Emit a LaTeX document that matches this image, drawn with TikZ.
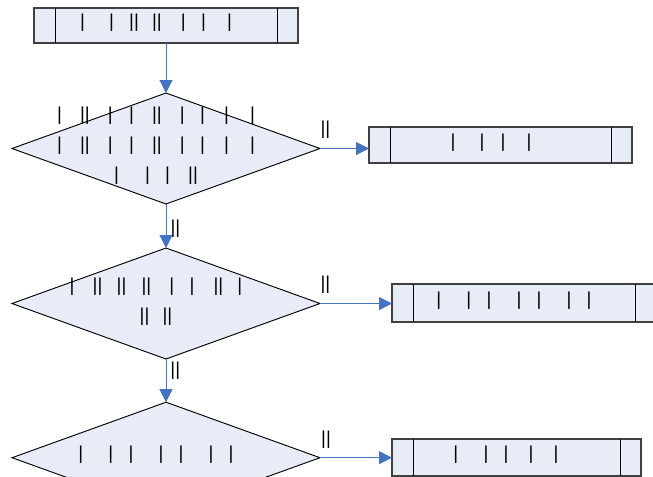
\documentclass[tikz,border=0pt]{standalone}
\usepackage{fontspec}
\setmainfont{Liberation Sans}
\usetikzlibrary{shapes.geometric,arrows.meta}
\definecolor{boxfill}{RGB}{232,236,247}
\definecolor{flowblue}{RGB}{68,114,196}

\begin{document}
\begin{tikzpicture}[
			x=0.75pt,y=-0.75pt,
			every node/.style={font=\fontsize{14}{22.5}\selectfont},
			procbox/.style 2 args={draw=black!75,fill=boxfill,line width=0.9pt,
				minimum width=#1,minimum height=#2,inner sep=0pt,outer sep=0pt},
			decision/.style={diamond,draw=black,fill=boxfill,line width=0.7pt,
				minimum width=231pt,minimum height=83.25pt,inner sep=0pt,outer sep=0pt},
			bartext/.style={align=center,inner sep=0pt},
			flow/.style={draw=flowblue,line width=0.75pt,
				-{Triangle[length=9.75pt,width=9.75pt]}},
			flowlabel/.style={inner sep=0pt}
			]
			\useasboundingbox (0,0) rectangle (653,476);
			% gap from one bar to the next, in px
			\def\bgap#1{\hspace{\dimexpr0.75pt*#1-3.6pt\relax}}
			% the two side strips of a process box
			\def\sidebars#1{
				\draw[line width=0.7pt] ([xshift=15.75pt]#1.north west) -- ([xshift=15.75pt]#1.south west);
				\draw[line width=0.7pt] ([xshift=-15.75pt]#1.north east) -- ([xshift=-15.75pt]#1.south east);
			}
			% boxes
			\node[procbox={198pt}{26.25pt}] (start) at (166,25.5) {};
			\node[procbox={197.25pt}{27pt}] (outa) at (500.5,145) {};
			\node[procbox={198pt}{28.5pt}] (outb) at (524,303) {};
			\node[procbox={186.75pt}{27.75pt}] (outc) at (516.5,457.5) {};
			\sidebars{start}
			\sidebars{outa}
			\sidebars{outb}
			\sidebars{outc}
			% decisions
			\node[decision] (dec1) at (166,148.5) {};
			\node[decision] (dec2) at (166,303.5) {};
			\node[decision] (dec3) at (166,457.7) {};
			% texts
			\node[bartext] (starttext) at (156,22.5) {|\bgap{29}|\bgap{20}||\bgap{18}||\bgap{24}|\bgap{20}|\bgap{26}|};
			\node[bartext] (dec1text) at (156,146) {|\bgap{23}||\bgap{23}|\bgap{21}|\bgap{23}||\bgap{23}|\bgap{20}|\bgap{24}|\bgap{26}|\\
				|\bgap{23}||\bgap{23}|\bgap{21}|\bgap{23}||\bgap{23}|\bgap{20}|\bgap{24}|\bgap{26}|\\
				|\bgap{31}|\bgap{20}|\bgap{23}||};
			\node[bartext] (dec2text) at (156,302) {|\bgap{23}||\bgap{19}||\bgap{20}||\bgap{23}|\bgap{20}|\bgap{24}||\bgap{19}|\\
				||\bgap{18}||};
			\node[bartext] (dec3text) at (156,455) {|\bgap{30}|\bgap{20}|\bgap{30}|\bgap{20}|\bgap{30}|\bgap{20}|};
			\node[bartext] (outatext) at (491,142.5) {|\bgap{29}|\bgap{21}|\bgap{26}|};
			\node[bartext] (outbtext) at (514,301) {|\bgap{30}|\bgap{20}|\bgap{30}|\bgap{20}|\bgap{30}|\bgap{20}|};
			\node[bartext] (outctext) at (506,455) {|\bgap{30}|\bgap{20}|\bgap{25}|\bgap{25}|};
			% connectors
			\draw[flow] (start) -- (dec1);
			\draw[flow] (dec1) -- (dec2) node[flowlabel,pos=0.57,xshift=7.1pt] (lab1) {||};
			\draw[flow] (dec2) -- (dec3) node[flowlabel,pos=0.27,xshift=7pt] (lab2) {||};
			\draw[flow] (dec1.east) -- (dec1.east -| outa.west) node[flowlabel,pos=0,xshift=4.1pt,yshift=14.3pt] (lab3) {||};
			\draw[flow] (dec2.east) -- (dec2.east -| outb.west) node[flowlabel,pos=0,xshift=4.1pt,yshift=14.3pt] (lab4) {||};
			\draw[flow] (dec3.east) -- (dec3.east -| outc.west) node[flowlabel,pos=0,xshift=4.5pt,yshift=13.5pt] (lab5) {||};
		\end{tikzpicture}
\end{document}
